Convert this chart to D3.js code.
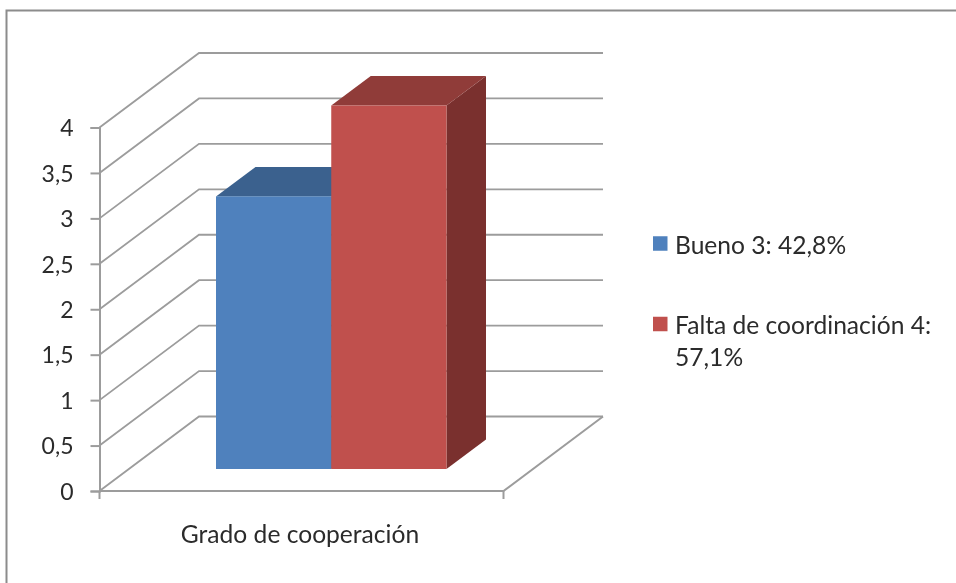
<!DOCTYPE html>
<html><head><meta charset="utf-8">
<style>html,body{margin:0;padding:0;background:#fff;overflow:hidden}svg{display:block;filter:blur(0.4px)}
text{font-family:Lato,"Open Sans",sans-serif;fill:#2b2b2b}</style>
<script src="https://cdn.jsdelivr.net/npm/d3@7/dist/d3.min.js"></script>
</head><body>
<svg id="c" width="956" height="583"></svg>
<script>
const categoryLabels = ["Grado de cooperación"];
const seriesNames = ["Bueno 3: 42,8%", "Falta de coordinación 4: 57,1%"];
const seriesValues = [3, 4];
const tickValues = [0, 0.5, 1, 1.5, 2, 2.5, 3, 3.5, 4];
const seriesFront = ["#4f81bd", "#c0504d"];
const seriesTop = ["#3b618e", "#903c39"];
const seriesSide = ["#2f4e71", "#7a302e"];

const svg = d3.select("#c");
const grid = "#9c9c9c";
const fs = 24.6;
const fmt = d3.formatLocale({decimal: ",", thousands: ".", grouping: [3], currency: ["", ""]}).format("~g");

// floor-depth projection of the 3D box
const depthX = 99.5, depthY = -74.5;
const y = d3.scaleLinear().domain([0, 4]).range([491, 127.5]);
const x = d3.scaleBand().domain(categoryLabels).range([99.5, 503.5]);
const bx = d3.scaleBand().domain(seriesNames).range([187, 417.5]);

// chart frame
svg.append("path").attr("d", "M956,10.5H6.5V583").attr("fill", "none").attr("stroke", "#8c8c8c").attr("stroke-width", 2);

// gridlines: side wall + back wall
svg.append("g").selectAll("path").data(tickValues).join("path")
  .attr("d", d => `M${x.range()[0]},${y(d)}L${x.range()[0] + depthX},${y(d) + depthY}H${x.range()[1] + depthX}`)
  .attr("fill", "none").attr("stroke", grid).attr("stroke-width", 1.8);

// floor front/right edge
svg.append("path")
  .attr("d", `M${x.range()[0]},${y(0)}H${x.range()[1]}L${x.range()[1] + depthX},${y(0) + depthY}`)
  .attr("fill", "none").attr("stroke", grid).attr("stroke-width", 2);

// axes
const yAxis = d3.axisLeft(y).tickValues(tickValues).tickFormat(fmt).tickSize(9).tickPadding(17);
const ga = svg.append("g").attr("transform", `translate(${x.range()[0]},0)`).call(yAxis);
ga.select(".domain").attr("stroke", grid).attr("stroke-width", 2);
ga.selectAll("line").attr("stroke", grid).attr("stroke-width", 2);
ga.selectAll("text").attr("font-size", 23).attr("dy", "0.36em").attr("fill", "#2b2b2b");

// x-axis end ticks and label
svg.append("g").selectAll("line").data(x.range()).join("line")
  .attr("x1", d => d).attr("x2", d => d).attr("y1", y(0)).attr("y2", y(0) + 8)
  .attr("stroke", grid).attr("stroke-width", 2);
svg.append("g").selectAll("text").data(categoryLabels).join("text")
  .attr("x", d => x(d) + x.bandwidth() / 2 - 1.5).attr("y", 543).attr("text-anchor", "middle")
  .attr("font-size", fs).text(d => d);

// bars
const barDX = 39.5, barDY = -29.5, floorDX = 29, floorDY = -22;
const bars = svg.append("g").selectAll("g").data(seriesNames).join("g");
const L = (d) => bx(d) + floorDX, R = (d) => L(d) + bx.bandwidth();
const val = (i) => seriesValues[i], Bot = y(0) + floorDY;
const Top = (i) => y(val(i)) + floorDY;
bars.append("path").attr("fill", (d, i) => seriesSide[i])
  .attr("d", (d, i) => `M${R(d)},${Bot}V${Top(i)}l${barDX},${barDY}V${Bot + barDY}Z`);
bars.append("path").attr("fill", (d, i) => seriesTop[i])
  .attr("d", (d, i) => `M${L(d)},${Top(i)}l${barDX},${barDY}H${R(d) + barDX}L${R(d)},${Top(i)}Z`);
bars.append("rect").attr("fill", (d, i) => seriesFront[i])
  .attr("x", d => L(d)).attr("width", bx.bandwidth())
  .attr("y", (d, i) => Top(i)).attr("height", (d, i) => Bot - Top(i));

// legend
const legendLines = [["Bueno 3: 42,8%"], ["Falta de coordinación 4:", "57,1%"]];
const legendY = d3.scalePoint().domain(seriesNames).range([243.5, 324]);
const lg = svg.append("g").selectAll("g").data(seriesNames).join("g");
lg.append("rect").attr("x", 653).attr("width", 14.5).attr("height", 14.5)
  .attr("y", d => legendY(d) - 7.25).attr("fill", (d, i) => seriesFront[i]);
lg.selectAll("text").data((d, i) => legendLines[i].map((t, j) => ({t, j, d}))).join("text")
  .attr("x", 675).attr("y", o => legendY(o.d) + 10 + o.j * 32).attr("font-size", fs).text(o => o.t);
</script>
</body></html>
